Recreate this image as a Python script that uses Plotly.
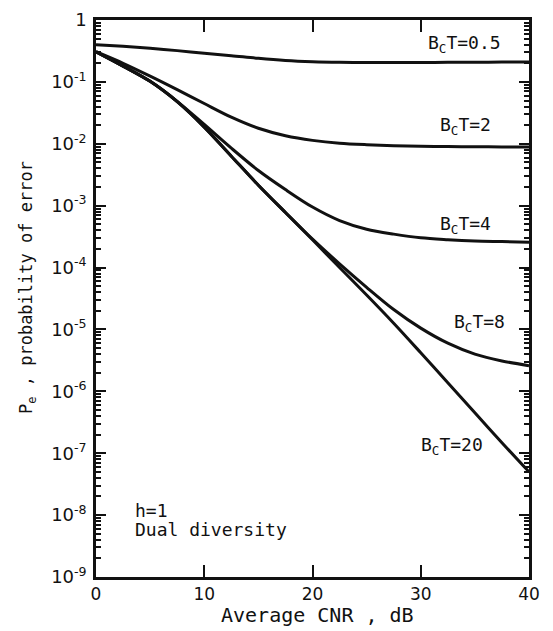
import plotly.graph_objects as go

# Average CNR (dB) sample points shared by all curves
cnr = [0, 2.5, 5, 7.5, 10, 12.5, 15, 17.5, 20, 22.5, 25, 27.5, 30, 32.5, 35, 37.5, 40]

# Probability of error for each BcT value
pe_bct_05 = [0.40, 0.375, 0.35, 0.32, 0.29, 0.265, 0.24, 0.222, 0.212, 0.207, 0.205,
             0.205, 0.206, 0.207, 0.208, 0.209, 0.21]
pe_bct_2 = [0.307, 0.20, 0.124, 0.075, 0.0447, 0.0269, 0.0178, 0.0135, 0.01135, 0.0102,
            0.00966, 0.00933, 0.00912, 0.00902, 0.00895, 0.00891, 0.00891]
pe_bct_4 = [0.307, 0.180, 0.102, 0.0485, 0.0205, 8.5e-3, 3.7e-3, 1.82e-3, 9.5e-4,
            5.75e-4, 4.17e-4, 3.47e-4, 3.02e-4, 2.82e-4, 2.69e-4, 2.63e-4, 2.57e-4]
pe_bct_8 = [0.307, 0.180, 0.102, 0.0479, 0.0186, 6.31e-3, 2.14e-3, 7.76e-4, 2.88e-4,
            1.15e-4, 4.8e-5, 2.1e-5, 1.05e-5, 6.0e-6, 4.0e-6, 3.1e-6, 2.6e-6]
pe_bct_20 = [0.307, 0.180, 0.102, 0.0479, 0.0186, 6.31e-3, 2.14e-3, 7.76e-4, 2.82e-4,
             1.0e-4, 3.6e-5, 1.26e-5, 4.2e-6, 1.38e-6, 4.5e-7, 1.48e-7, 5.0e-8]

series = [pe_bct_05, pe_bct_2, pe_bct_4, pe_bct_8, pe_bct_20]
curve_labels = ["B<sub>C</sub>T=0.5", "B<sub>C</sub>T=2", "B<sub>C</sub>T=4",
                "B<sub>C</sub>T=8", "B<sub>C</sub>T=20"]
# label anchor: (x in dB, log10 of Pe)
label_pos = [(37.6, -0.38), (36.7, -1.71), (36.7, -3.31), (38.0, -4.90), (35.9, -6.88)]

x_ticks = [0, 10, 20, 30, 40]
y_tick_vals = [10.0 ** -k for k in range(0, 10)]
y_tick_text = ["1"] + ["10<sup>-%d</sup>" % k for k in range(1, 10)]
y_minor_vals = [m * 10.0 ** -k for k in range(1, 10) for m in range(2, 10)]

MONO = "DejaVu Sans Mono"
INK = "#111111"

fig = go.Figure()
for ys in series:
    fig.add_trace(go.Scatter(
        x=cnr, y=ys, mode="lines",
        line=dict(color=INK, width=3, shape="spline", smoothing=0.9),
        showlegend=False, hoverinfo="skip",
    ))

for text, (lx, ly) in zip(curve_labels, label_pos):
    fig.add_annotation(x=lx, y=ly, xref="x", yref="y", text=text,
                       showarrow=False, xanchor="right", yanchor="middle",
                       font=dict(family=MONO, size=18, color=INK))

fig.add_annotation(x=3.4, y=-7.92, xref="x", yref="y", text="h=1",
                   showarrow=False, xanchor="left", yanchor="middle",
                   font=dict(family=MONO, size=18, color=INK))
fig.add_annotation(x=3.4, y=-8.24, xref="x", yref="y", text="Dual diversity",
                   showarrow=False, xanchor="left", yanchor="middle",
                   font=dict(family=MONO, size=18, color=INK))

# axis titles
fig.add_annotation(x=0.511, y=-0.068, xref="paper", yref="paper",
                   text="Average CNR , dB", showarrow=False,
                   xanchor="center", yanchor="middle",
                   font=dict(family=MONO, size=20, color=INK))
fig.add_annotation(x=-0.157, y=0.519, xref="paper", yref="paper",
                   text="P<sub>e</sub> , probability of error", showarrow=False,
                   textangle=-90, xanchor="center", yanchor="middle",
                   font=dict(family=MONO, size=17, color=INK))

fig.update_xaxes(
    range=[0, 40], tickvals=x_ticks, ticktext=[str(v) for v in x_ticks],
    ticks="inside", ticklen=12, tickwidth=1.5, tickcolor=INK,
    showline=True, linewidth=2.5, linecolor=INK, mirror="ticks",
    showgrid=False, zeroline=False,
    tickfont=dict(family="DejaVu Sans", size=17, color=INK),
)
fig.update_yaxes(
    type="log", range=[-9, 0], tickvals=y_tick_vals, ticktext=y_tick_text,
    ticks="inside", ticklen=10, tickwidth=2, tickcolor=INK,
    minor=dict(tickvals=y_minor_vals, ticks="inside", ticklen=5, tickwidth=1.5,
               tickcolor=INK, showgrid=False),
    showline=True, linewidth=2.5, linecolor=INK, mirror="ticks",
    showgrid=False, zeroline=False, ticklabelstandoff=3,
    tickfont=dict(family="DejaVu Sans", size=18, color=INK),
)

fig.update_layout(
    width=553, height=631,
    margin=dict(l=96, r=24, t=9, b=54),
    paper_bgcolor="white", plot_bgcolor="white",
)

fig.write_html("out.html")
